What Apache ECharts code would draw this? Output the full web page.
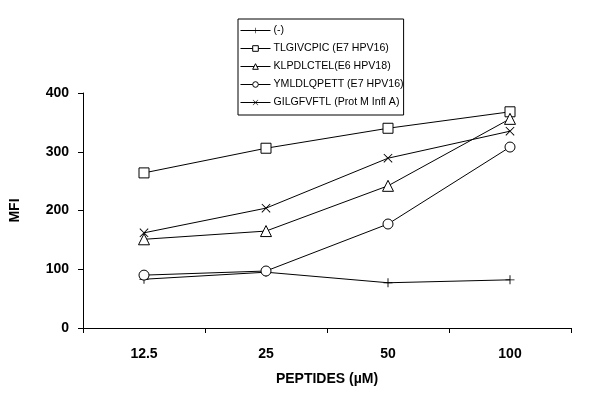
<!DOCTYPE html>
<html>
<head>
<meta charset="utf-8">
<script src="https://cdn.jsdelivr.net/npm/echarts@6/dist/echarts.min.js"></script>
<style>html,body{margin:0;padding:0;background:#fff}#c{width:600px;height:408px}</style>
</head>
<body>
<div id="c"></div>
<script>
var categories = ['12.5', '25', '50', '100'];
var seriesNames = ['(-)', 'TLGIVCPIC (E7 HPV16)', 'KLPDLCTEL(E6 HPV18)', 'YMLDLQPETT (E7 HPV16)', 'GILGFVFTL (Prot M Infl A)'];
var plusValues = [83, 95, 77, 82];
var squareValues = [264, 306, 340, 368];
var triangleValues = [151, 165, 242, 356];
var circleValues = [90, 97, 177, 308];
var crossValues = [162, 204, 289, 335];
var yTicks = [0, 100, 200, 300, 400];

var plusPath = 'path://M4.5,0h1v4.5h4.5v1h-4.5v4.5h-1v-4.5h-4.5v-1h4.5z';
var crossPath = 'path://M0.7,0L5,4.3L9.3,0L10,0.7L5.7,5L10,9.3L9.3,10L5,5.7L0.7,10L0,9.3L4.3,5L0,0.7z';

function mk(name, data, symbol, size, filled) {
  return {
    name: name, type: 'line', data: data, symbol: symbol, symbolSize: size,
    lineStyle: { color: '#000', width: 1 },
    itemStyle: filled ? { color: '#000', borderWidth: 0 } : { color: '#fff', borderColor: '#000', borderWidth: 1 },
    emphasis: { disabled: true }
  };
}

var chart = echarts.init(document.getElementById('c'));
chart.setOption({
  animation: false,
  backgroundColor: '#fff',
  textStyle: { fontFamily: 'Liberation Sans, Arial, sans-serif' },
  grid: { left: 83, right: 29, top: 93, bottom: 80 },
  legend: {
    orient: 'vertical', left: 238, top: 19,
    data: seriesNames,
    itemWidth: 30, itemHeight: 7, itemGap: 5,
    padding: [5, 0, 6, 2],
    borderColor: '#000', borderWidth: 1,
    itemStyle: { borderWidth: 1 },
    lineStyle: { width: 1 },
    textStyle: { fontSize: 10.6, lineHeight: 13, color: '#000', fontFamily: 'Liberation Sans, Arial, sans-serif', padding: [0, 0, 0, -2] }
  },
  xAxis: {
    type: 'category', data: categories, boundaryGap: true,
    name: 'PEPTIDES (\u00b5M)', nameLocation: 'middle', nameGap: 44,
    nameTextStyle: { fontSize: 14, fontWeight: 'bold', color: '#000' },
    axisLine: { lineStyle: { color: '#000', width: 1 } },
    axisTick: { show: true, length: 5, inside: false, lineStyle: { color: '#000' } },
    axisLabel: { fontSize: 14, fontWeight: 'bold', color: '#000', margin: 19 },
    splitLine: { show: false }
  },
  yAxis: {
    type: 'value', min: 0, max: 400, interval: 100,
    name: 'MFI', nameLocation: 'middle', nameGap: 61, nameRotate: 90,
    nameTextStyle: { fontSize: 14, fontWeight: 'bold', color: '#000' },
    axisLine: { show: true, lineStyle: { color: '#000', width: 1 } },
    axisTick: { show: true, length: 5, lineStyle: { color: '#000' } },
    axisLabel: { fontSize: 14, fontWeight: 'bold', color: '#000', margin: 14,
      formatter: function (v) { return yTicks.indexOf(v) >= 0 ? String(v) : ''; } },
    splitLine: { show: false }
  },
  series: [
    mk(seriesNames[0], plusValues, plusPath, 9, true),
    mk(seriesNames[1], squareValues, 'rect', 10, false),
    mk(seriesNames[2], triangleValues, 'triangle', 11, false),
    mk(seriesNames[3], circleValues, 'circle', 10, false),
    mk(seriesNames[4], crossValues, crossPath, 9, true)
  ]
});
</script>
</body>
</html>
